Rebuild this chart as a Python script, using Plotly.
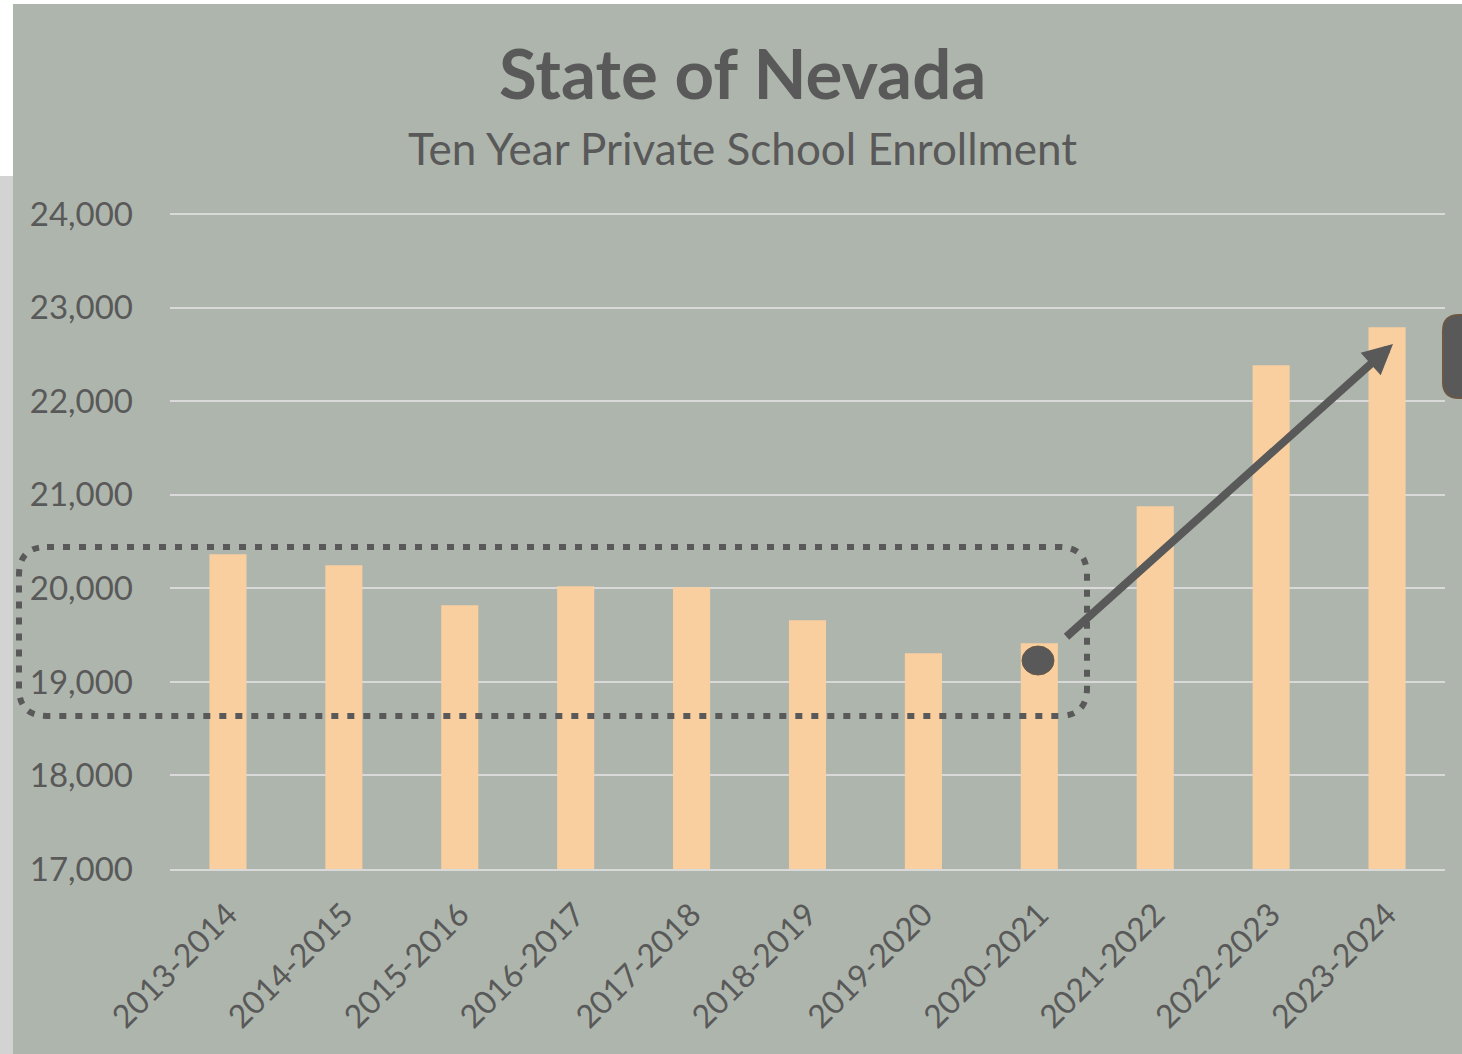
import plotly.graph_objects as go

years = ["2013-2014", "2014-2015", "2015-2016", "2016-2017", "2017-2018", "2018-2019",
         "2019-2020", "2020-2021", "2021-2022", "2022-2023", "2023-2024"]
enrollment = [20366, 20249, 19821, 20024, 20014, 19661, 19308, 19415, 20879, 22386, 22792]
y_ticks = [17000, 18000, 19000, 20000, 21000, 22000, 23000, 24000]
y_tick_labels = ["17,000", "18,000", "19,000", "20,000", "21,000", "22,000", "23,000", "24,000"]

W, H = 1462, 1054
L, R, T, B = 170, 17, 205, 185
PW = W - L - R
PH = H - T - B

def px(x):
    return (x - L) / PW

def py(y):
    return (H - B - y) / PH

BG = "#AEB5AC"
DARK = "#595959"
FONT = "Lato"

fig = go.Figure()
fig.add_trace(go.Bar(x=years, y=enrollment, marker=dict(color="#FACF9F", line=dict(width=0)),
                     showlegend=False))

shapes = []
# white top band and left strips
shapes.append(dict(type="rect", xref="paper", yref="paper", x0=px(-5), x1=px(W + 5),
                   y0=py(4), y1=py(-5), fillcolor="white", line=dict(width=0), layer="below"))
shapes.append(dict(type="rect", xref="paper", yref="paper", x0=px(-5), x1=px(13),
                   y0=py(176), y1=py(-5), fillcolor="white", line=dict(width=0), layer="below"))
shapes.append(dict(type="rect", xref="paper", yref="paper", x0=px(-5), x1=px(13),
                   y0=py(H + 5), y1=py(176), fillcolor="#D3D3D3", line=dict(width=0), layer="below"))

# dotted rounded rectangle
x0, x1, y0, y1, r = 19, 1087, 547, 716, 28
def P(x, y):
    return f"{px(x):.5f},{py(y):.5f}"
path = (f"M {P(x0 + r, y0)} L {P(x1 - r, y0)} Q {P(x1, y0)} {P(x1, y0 + r)} "
        f"L {P(x1, y1 - r)} Q {P(x1, y1)} {P(x1 - r, y1)} "
        f"L {P(x0 + r, y1)} Q {P(x0, y1)} {P(x0, y1 - r)} "
        f"L {P(x0, y0 + r)} Q {P(x0, y0)} {P(x0 + r, y0)} Z")
shapes.append(dict(type="path", xref="paper", yref="paper", path=path,
                   line=dict(color=DARK, width=6, dash="7px,9px")))

# ellipse
shapes.append(dict(type="circle", xref="paper", yref="paper", x0=px(1022), x1=px(1054),
                   y0=py(675), y1=py(646), fillcolor=DARK, line=dict(color="#6B5744", width=1)))

# right side rounded box (partially visible)
bx0, bx1, by0, by1, br = 1443, 1500, 315, 398, 16
bpath = (f"M {P(bx0 + br, by0)} L {P(bx1, by0)} L {P(bx1, by1)} L {P(bx0 + br, by1)} "
         f"Q {P(bx0, by1)} {P(bx0, by1 - br)} L {P(bx0, by0 + br)} Q {P(bx0, by0)} {P(bx0 + br, by0)} Z")
shapes.append(dict(type="path", xref="paper", yref="paper", path=bpath,
                   fillcolor=DARK, line=dict(color="#6B5744", width=2)))

annotations = [
    dict(text="<b>State of Nevada</b>", xref="paper", yref="paper", x=px(742), y=py(73),
         xanchor="center", yanchor="middle", showarrow=False,
         font=dict(family=FONT, size=69, color=DARK)),
    dict(text="Ten Year Private School Enrollment", xref="paper", yref="paper", x=px(742), y=py(148),
         xanchor="center", yanchor="middle", showarrow=False,
         font=dict(family=FONT, size=44, color=DARK)),
    dict(text="", xref="paper", yref="paper", x=px(1393), y=py(344), ax=1065 - 1393, ay=638 - 344,
         showarrow=True, arrowhead=2, arrowsize=0.75, arrowwidth=8, arrowcolor=DARK),
]

fig.update_layout(
    width=W, height=H,
    margin=dict(l=L, r=R, t=T, b=B, autoexpand=False),
    paper_bgcolor=BG, plot_bgcolor=BG,
    bargap=0.68,
    shapes=shapes,
    annotations=annotations,
    font=dict(family=FONT, color=DARK),
    xaxis=dict(tickangle=-45, tickfont=dict(size=32, color=DARK, family=FONT),
               showgrid=False, showline=True, linecolor="#D9D9D9", linewidth=2,
               ticks="", zeroline=False, ticklabelstandoff=12),
    yaxis=dict(range=[17000, 24100], tickvals=y_ticks, ticktext=y_tick_labels,
               tickfont=dict(size=33, color=DARK, family=FONT),
               showgrid=True, gridcolor="#D9D9D9", gridwidth=2, zeroline=False,
               ticks="", ticklabelstandoff=36, showline=False),
)

fig.write_html("out.html", config={"displayModeBar": False},
               post_script="document.body.style.margin='0';document.body.style.padding='0';")
